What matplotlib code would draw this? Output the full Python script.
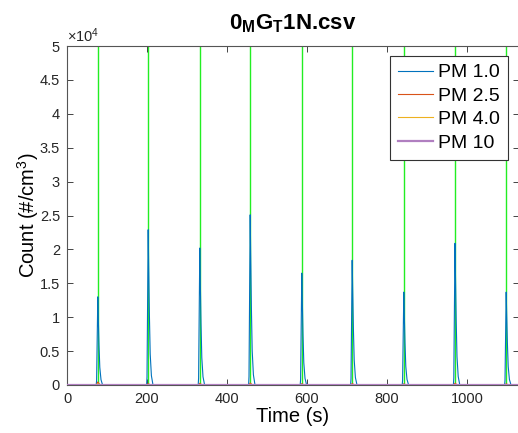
import numpy as np
import matplotlib
matplotlib.use('Agg')
import matplotlib.pyplot as plt

plt.rcParams['font.family'] = ['Liberation Sans', 'DejaVu Sans']
plt.rcParams['mathtext.fontset'] = 'custom'
plt.rcParams['mathtext.rm'] = 'Liberation Sans'
plt.rcParams['mathtext.it'] = 'Liberation Sans'
plt.rcParams['mathtext.bf'] = 'Liberation Sans:bold'

# Pulse (valve) times in seconds
pulse_times = [77, 203, 332, 458, 587, 713, 842, 970, 1098]

# Peak counts of each pulse (#/cm^3)
pm1_peaks = [1.30e4, 2.29e4, 2.02e4, 2.51e4, 1.65e4, 1.84e4, 1.37e4, 2.09e4, 1.37e4]
pm25_peaks = [450, 200, 250, 300, 200, 220, 180, 260, 180]
pm4_peaks = [200, 90, 110, 130, 90, 100, 80, 120, 80]

# Shape of one pulse: seconds from onset, fraction of peak
profile_dt = [-4, -3, 0, 1, 3, 5, 8, 12]
profile_frac = [0, 0.05, 1.0, 0.8, 0.45, 0.2, 0.06, 0]

t_end = 1130


def build_series(peaks):
    t = [0]
    v = [0]
    for onset, peak in zip(pulse_times, peaks):
        for d, f in zip(profile_dt, profile_frac):
            t.append(onset + d)
            v.append(peak * f)
    t.append(t_end)
    v.append(0)
    return t, v


fig = plt.figure(figsize=(5.18, 4.33), dpi=100)
ax = fig.add_axes([67 / 518, 48 / 433, (519 - 67) / 518, (385 - 46) / 433])

for pt in pulse_times:
    ax.axvline(pt, color='#22ee22', lw=1.0, zorder=1)

t1, v1 = build_series(pm1_peaks)
t25, v25 = build_series(pm25_peaks)
t4, v4 = build_series(pm4_peaks)

ax.plot(t1, v1, color='#0072BD', lw=0.8, label='PM 1.0', zorder=3)
ax.plot(t25, v25, color='#D95319', lw=0.8, label='PM 2.5', zorder=3)
ax.plot(t4, v4, color='#EDB120', lw=0.8, label='PM 4.0', zorder=3)
ax.plot([0, t_end], [0, 0], color='#b07fc0', lw=1.6, label='PM 10', zorder=4)

ax.set_xlim(0, t_end)
ax.set_ylim(0, 5e4)
ax.set_xticks([0, 200, 400, 600, 800, 1000])
ax.set_yticks(np.arange(0, 5.01e4, 0.5e4))
ax.set_yticklabels(['0', '0.5', '1', '1.5', '2', '2.5', '3', '3.5', '4', '4.5', '5'])

ax.tick_params(direction='in', length=4, width=0.6, top=True, right=True,
               labelsize=10.5, colors='#262626', pad=5)
for s in ax.spines.values():
    s.set_color('#555555')
    s.set_linewidth(0.8)

ax.text(0.0, 1.003, r'$\times10^{4}$', transform=ax.transAxes, fontsize=10.5,
        color='#262626', ha='left', va='bottom')

ax.set_xlabel('Time (s)', fontsize=14.5, labelpad=1)
ax.set_ylabel(r'Count (#/cm$^{3}$)', fontsize=14.5, labelpad=-1)
ax.set_title(r'$\mathbf{0_{M}G_{T}1N}$.csv', fontsize=16, fontweight='bold', pad=12)

leg = ax.legend(loc='upper right', bbox_to_anchor=(508 / 518, 1 - 56 / 433),
                bbox_transform=fig.transFigure, borderaxespad=0, fontsize=14,
                fancybox=False, framealpha=1, edgecolor='#333333',
                handlelength=1.8, handletextpad=0.3, labelspacing=0.3,
                borderpad=0.4)
leg.get_frame().set_linewidth(0.8)

fig.savefig('out.png', dpi=100)
